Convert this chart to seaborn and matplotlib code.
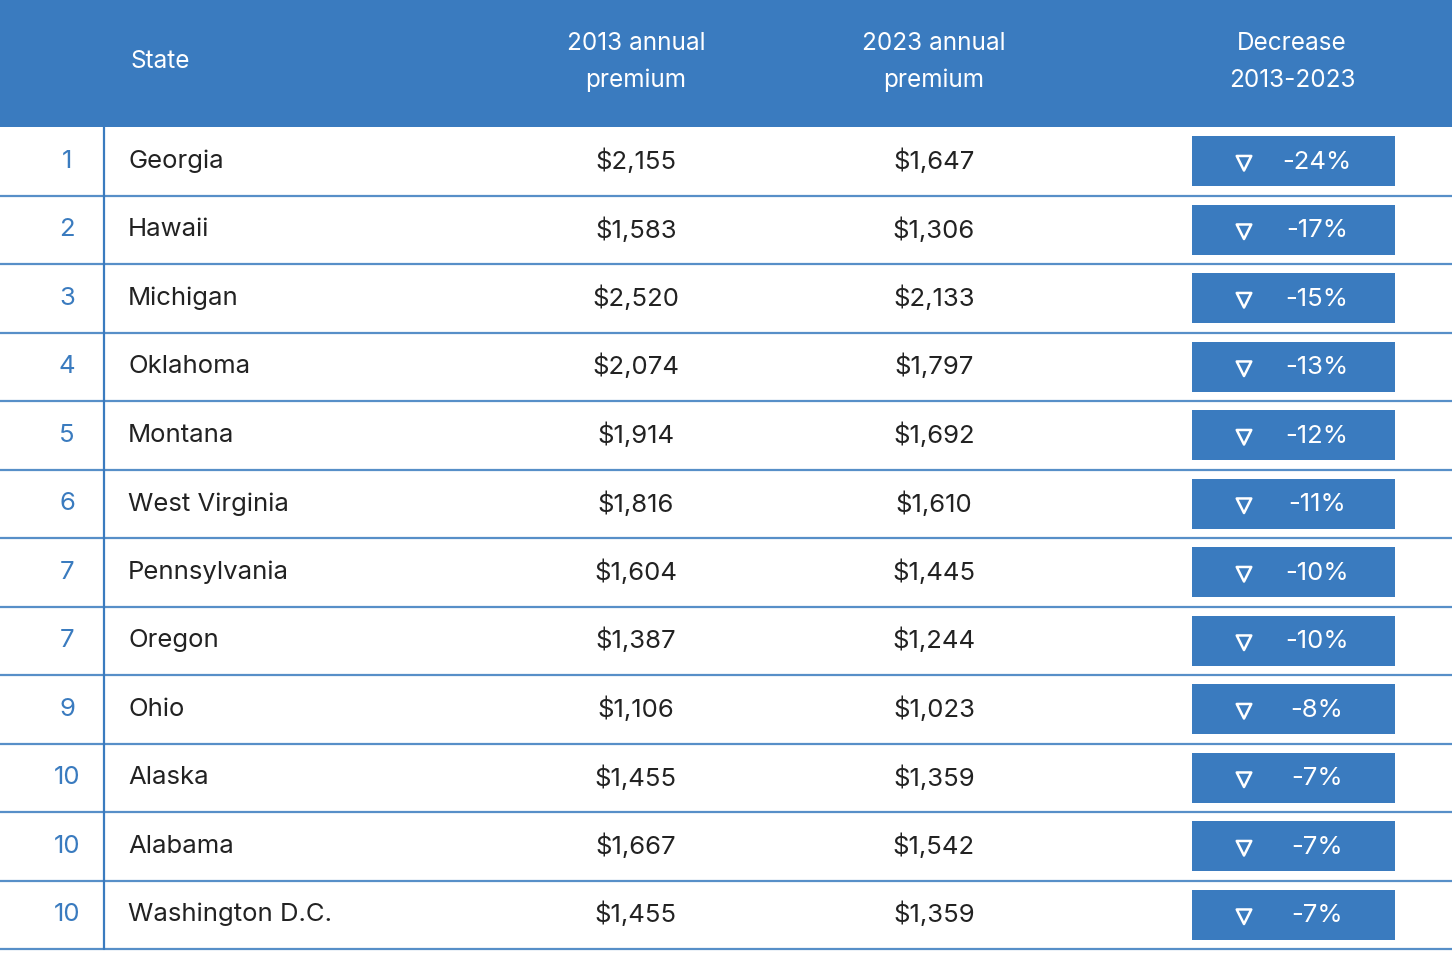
import matplotlib
matplotlib.use("Agg")
import matplotlib.pyplot as plt
import seaborn as sns
import pandas as pd
from matplotlib.patches import Rectangle

ranks = ["1", "2", "3", "4", "5", "6", "7", "7", "9", "10", "10", "10"]
states = ["Georgia", "Hawaii", "Michigan", "Oklahoma", "Montana", "West Virginia",
          "Pennsylvania", "Oregon", "Ohio", "Alaska", "Alabama", "Washington D.C."]
prem_2013 = [2155, 1583, 2520, 2074, 1914, 1816, 1604, 1387, 1106, 1455, 1667, 1455]
prem_2023 = [1647, 1306, 2133, 1797, 1692, 1610, 1445, 1244, 1023, 1359, 1542, 1359]
decrease = [-24, -17, -15, -13, -12, -11, -10, -10, -8, -7, -7, -7]

blue = "#3a7bbf"
dark = "#222222"

sns.set_theme(style="white")
plt.rcParams["font.family"] = ["Inter", "DejaVu Sans"]

fig = plt.figure(figsize=(14.52, 9.77), dpi=100)
ax = fig.add_axes([0, 0, 1, 1])
ax.set_xlim(0, 1452)
ax.set_ylim(977, 0)
ax.axis("off")

# header
top, head_h, row_h = 0, 127, 68.5
ax.add_patch(Rectangle((0, top), 1452, head_h, color=blue, lw=0))
hk = dict(color="white", fontsize=17.5, ha="center", va="center", linespacing=1.75)
ax.text(160, 62, "State", **hk)
ax.text(636, 62, "2013 annual\npremium", **hk)
ax.text(934, 62, "2023 annual\npremium", **hk)
ax.text(1292, 62, "Decrease\n2013-2023", **hk)

n = len(states)
ys = [head_h + row_h * (i + 0.5) for i in range(n)]
for i in range(n):
    y = ys[i]
    ax.axhline(head_h + row_h * (i + 1), color=blue, lw=1.6, alpha=0.85)
    ax.text(67, y, ranks[i], color=blue, fontsize=18.5, ha="center", va="center")
    ax.text(128, y, states[i], color=dark, fontsize=18.5, ha="left", va="center")
    ax.text(636, y, f"${prem_2013[i]:,}", color=dark, fontsize=18.5, ha="center", va="center")
    ax.text(934, y, f"${prem_2023[i]:,}", color=dark, fontsize=18.5, ha="center", va="center")
    ax.add_patch(Rectangle((1192, y - 25), 203, 50, color=blue, lw=0))
    ax.text(1317, y + 1, f"{decrease[i]}%", color="white", fontsize=18.5, ha="center", va="center")
ax.plot([104, 104], [head_h, head_h + row_h * n], color=blue, lw=1.6)

tri = pd.DataFrame({"x": [1244] * n, "y": [y + 2 for y in ys]})
sns.scatterplot(data=tri, x="x", y="y", marker="v", s=110, facecolor="none",
                edgecolor="white", linewidth=1.8, ax=ax, legend=False)
ax.set_xlim(0, 1452)
ax.set_ylim(977, 0)
ax.axis("off")

fig.savefig("out.png", dpi=100, facecolor="white")
